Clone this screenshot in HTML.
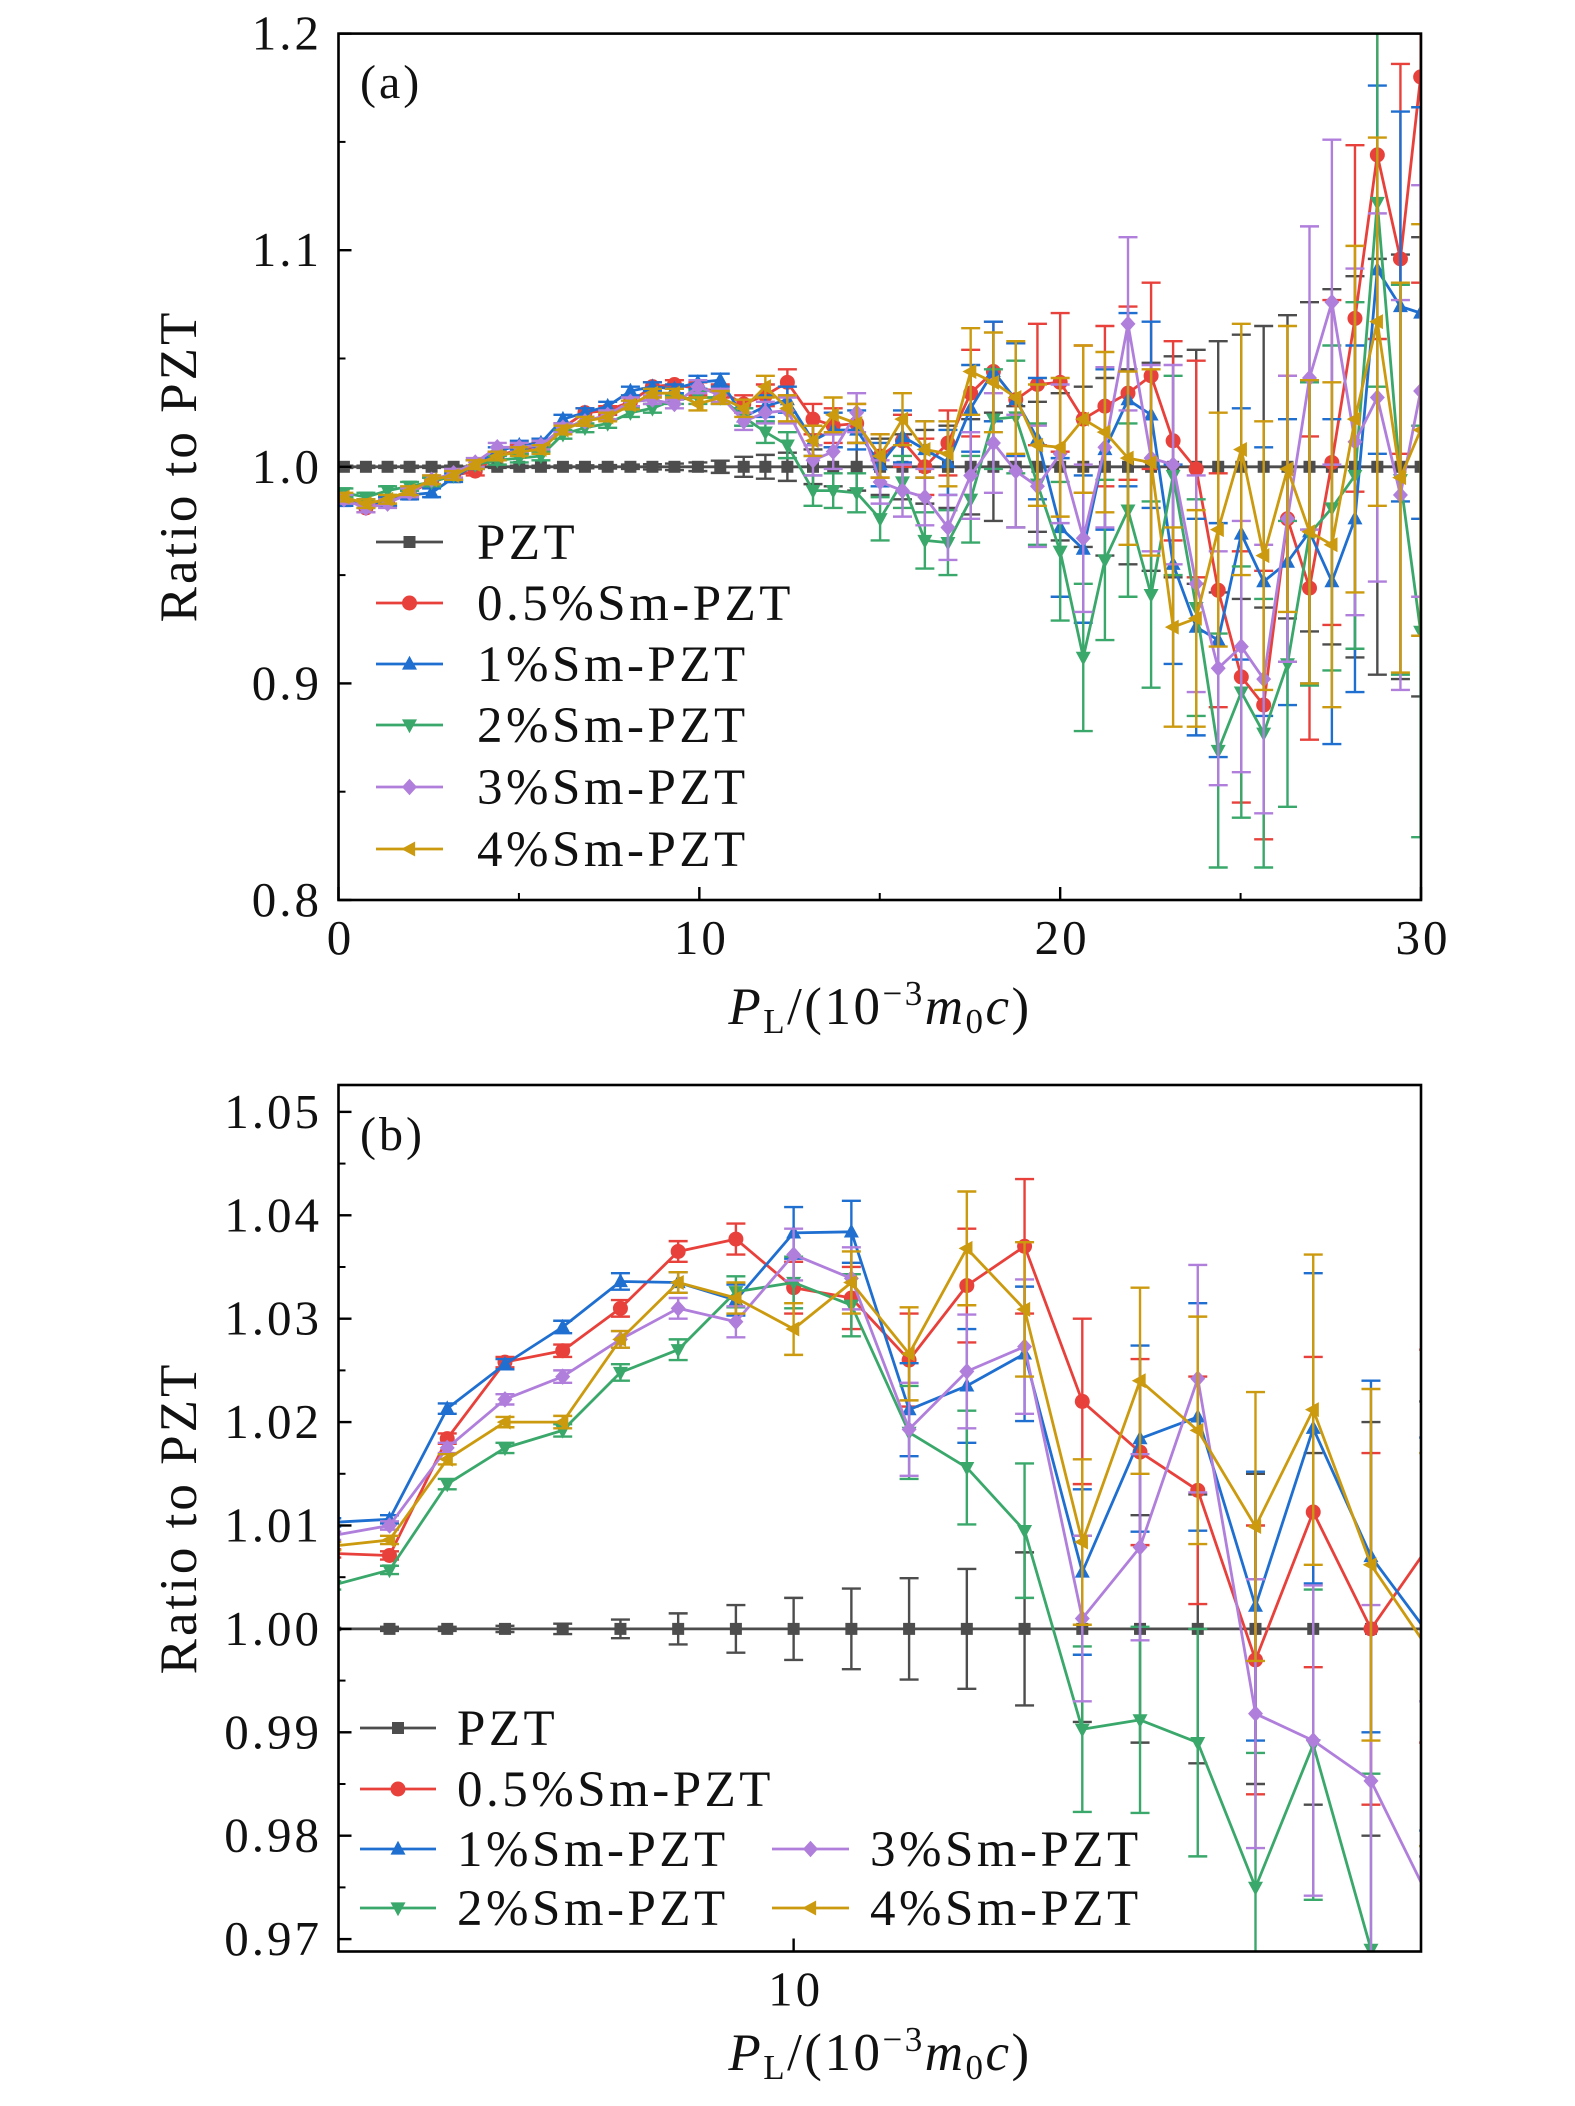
<!DOCTYPE html>
<html><head><meta charset="utf-8"><style>
html,body{margin:0;padding:0;background:#fff;overflow:hidden;width:1575px;height:2106px}
svg{display:block}
text{font-family:"Liberation Serif",serif;fill:#111}
</style></head><body>
<svg id="chart" width="1575" height="2106" viewBox="0 0 1575 2106" xmlns="http://www.w3.org/2000/svg">
<defs>
<clipPath id="clipA"><rect x="338.5" y="33.6" width="1082.5" height="866.4"/></clipPath>
<clipPath id="clipB"><rect x="338.5" y="1085" width="1082.5" height="866.5"/></clipPath>
</defs>
<g id="panelA"></g>
<g id="panelB"></g>
</svg>
<script>
// ---------- Panel (a) data ----------
const xA = [0.15,0.76,1.36,1.97,2.58,3.19,3.79,4.4,5.01,5.61,6.22,6.83,7.46,8.09,8.7,9.31,9.96,10.58,11.23,11.83,12.44,13.15,13.71,14.36,15.01,15.63,16.25,16.89,17.52,18.15,18.77,19.37,20.0,20.64,21.24,21.88,22.52,23.13,23.77,24.38,25.02,25.64,26.3,26.91,27.53,28.17,28.79,29.43,29.99,30.6];
const pztA = [1,1,1,1,1,1,1,1,1,1,1,1,1,1,1,1,1,1,1,1,1,1,1,1,1,1,1,1,1,1,1,1,1,1,1,1,1,1,1,1,1,1,1,1,1,1,1,1,1,1];
const redA = [0.985,0.981,0.984,0.988,0.993,0.996,0.998,1.005,1.008,1.009,1.018,1.025,1.026,1.030,1.037,1.038,1.036,1.035,1.029,1.033,1.039,1.022,1.019,1.020,1.005,1.012,1.000,1.011,1.034,1.044,1.031,1.038,1.039,1.022,1.028,1.034,1.042,1.012,0.999,0.943,0.903,0.89,0.976,0.944,1.002,1.0685,1.144,1.096,1.18,1.24];
const blueA = [0.984,0.983,0.984,0.987,0.988,0.995,1.001,1.007,1.01,1.011,1.022,1.025,1.028,1.035,1.037,1.036,1.039,1.040,1.023,1.028,1.031,1.012,1.017,1.017,1.001,1.014,1.008,1.002,1.027,1.044,1.031,1.013,0.972,0.962,1.008,1.031,1.024,0.955,0.926,0.920,0.969,0.947,0.956,0.97,0.947,0.976,1.091,1.074,1.071,1.07];
const greenA = [0.988,0.986,0.989,0.991,0.993,0.996,1.001,1.003,1.004,1.005,1.015,1.018,1.02,1.025,1.027,1.031,1.032,1.032,1.023,1.016,1.010,0.989,0.989,0.988,0.976,0.993,0.966,0.965,0.985,1.022,1.023,0.992,0.961,0.912,0.957,0.980,0.941,0.996,0.935,0.869,0.896,0.877,0.909,0.969,0.981,0.996,1.122,0.994,0.924,0.86];
const purpleA = [0.985,0.981,0.983,0.988,0.994,0.997,1.002,1.009,1.009,1.01,1.018,1.021,1.024,1.030,1.031,1.029,1.037,1.033,1.021,1.025,1.026,1.003,1.007,1.025,0.993,0.989,0.986,0.972,0.996,1.011,0.998,0.991,1.006,0.967,1.009,1.066,1.004,1.001,0.946,0.907,0.917,0.902,0.976,1.041,1.076,1.0115,1.032,0.987,1.035,1.05];
const goldA = [0.986,0.983,0.985,0.989,0.994,0.996,1.001,1.005,1.007,1.008,1.017,1.021,1.023,1.0285,1.034,1.034,1.029,1.032,1.027,1.037,1.027,1.012,1.024,1.020,1.005,1.022,1.008,1.006,1.044,1.039,1.032,1.010,1.009,1.022,1.016,1.004,1.002,0.926,0.930,0.971,1.008,0.959,0.999,0.97,0.964,1.022,1.067,0.995,1.017,1.03];
const errPztA = [0.0005,0.0005,0.0005,0.0005,0.0005,0.0005,0.0005,0.0005,0.0005,0.0005,0.0006,0.0007,0.0008,0.001,0.0012,0.0015,0.002,0.0028,0.0046,0.0055,0.0065,0.008,0.009,0.011,0.013,0.015,0.017,0.019,0.022,0.025,0.028,0.03,0.034,0.037,0.041,0.045,0.048,0.051,0.054,0.058,0.061,0.065,0.07,0.076,0.082,0.088,0.096,0.098,0.106,0.11];
const errColA = [0.002,0.002,0.002,0.002,0.002,0.002,0.002,0.002,0.002,0.002,0.002,0.002,0.002,0.002,0.002,0.002,0.003,0.003,0.004,0.005,0.006,0.007,0.008,0.009,0.010,0.012,0.013,0.015,0.02,0.023,0.026,0.028,0.032,0.034,0.037,0.04,0.043,0.046,0.05,0.054,0.058,0.062,0.066,0.07,0.075,0.08,0.085,0.09,0.095,0.1];
const yTicksA = [0.8,0.9,1.0,1.1,1.2];
const yTickLabelsA = ["0.8","0.9","1.0","1.1","1.2"];
const xTicksA = [0,10,20,30];
const xTickLabelsA = ["0","10","20","30"];

// ---------- Panel (b) data ----------
const xB = [5.2,5.8,6.4,7.0,7.6,8.2,8.8,9.4,10.0,10.6,11.2,11.8,12.4,13.0,13.6,14.2,14.8,15.4,16.0,16.6];
const pztB = [1,1,1,1,1,1,1,1,1,1,1,1,1,1,1,1,1,1,1,1];
const redB = [1.0073,1.0071,1.0184,1.0258,1.0269,1.031,1.0365,1.0377,1.033,1.032,1.026,1.0332,1.037,1.022,1.0171,1.0134,0.997,1.0113,1.000,1.008];
const blueB = [1.0103,1.0106,1.0213,1.0256,1.0292,1.0336,1.0335,1.0318,1.0383,1.0384,1.0212,1.0235,1.0266,1.0055,1.0184,1.0205,1.0022,1.0194,1.007,0.9995];
const greenB = [1.0042,1.0057,1.014,1.0175,1.0192,1.0248,1.027,1.0326,1.0335,1.0313,1.019,1.0156,1.0095,0.9903,0.9912,0.989,0.975,0.9888,0.969,0.96];
const purpleB = [1.009,1.010,1.0175,1.0222,1.0244,1.028,1.031,1.0297,1.0362,1.0339,1.0193,1.0249,1.0273,1.001,1.0079,1.0242,0.9918,0.9892,0.9853,0.974];
const goldB = [1.008,1.0086,1.0164,1.02,1.02,1.028,1.0335,1.032,1.029,1.0335,1.0266,1.0368,1.0309,1.0084,1.024,1.0192,1.0099,1.0212,1.0062,0.998];
const errPztB = [0.0001,0.0002,0.0002,0.0003,0.0005,0.0009,0.0015,0.0023,0.003,0.0039,0.0049,0.0058,0.0074,0.009,0.011,0.013,0.015,0.017,0.02,0.022];
const errColB = [0.0004,0.0004,0.0005,0.0005,0.0006,0.0008,0.001,0.0015,0.0025,0.003,0.0045,0.0055,0.0065,0.008,0.009,0.011,0.013,0.015,0.017,0.019];
const yTicksB = [0.97,0.98,0.99,1.00,1.01,1.02,1.03,1.04,1.05];
const yTickLabelsB = ["0.97","0.98","0.99","1.00","1.01","1.02","1.03","1.04","1.05"];
const xTicksB = [10];
const xTickLabelsB = ["10"];

const seriesNames = ["PZT","0.5%Sm-PZT","1%Sm-PZT","2%Sm-PZT","3%Sm-PZT","4%Sm-PZT"];
const seriesColors = ["#4d4d4d","#e8413b","#1f6fd1","#3aa86b","#b07fdc","#cc9a0e"];
const seriesMarkers = ["square","circle","up","down","diamond","left"];
const seriesKeys = ["pzt","red-05","blue-1","green-2","purple-3","gold-4"];

const NS = "http://www.w3.org/2000/svg";
function mk(tag, attrs, parent){
  const e = document.createElementNS(NS, tag);
  for (const k in attrs) e.setAttribute(k, attrs[k]);
  parent.appendChild(e);
  return e;
}
function markerPath(type, cx, cy, r){
  if (type==="square") return `M${cx-r*0.8},${cy-r*0.8}h${1.6*r}v${1.6*r}h${-1.6*r}Z`;
  if (type==="circle") return `M${cx-r},${cy}a${r},${r} 0 1,0 ${2*r},0a${r},${r} 0 1,0 ${-2*r},0Z`;
  if (type==="up") return `M${cx},${cy-r*1.1}L${cx+r},${cy+r*0.75}L${cx-r},${cy+r*0.75}Z`;
  if (type==="down") return `M${cx},${cy+r*1.1}L${cx+r},${cy-r*0.75}L${cx-r},${cy-r*0.75}Z`;
  if (type==="diamond") return `M${cx},${cy-r*1.1}L${cx+r},${cy}L${cx},${cy+r*1.1}L${cx-r},${cy}Z`;
  if (type==="left") return `M${cx-r*1.1},${cy}L${cx+r*0.75},${cy-r}L${cx+r*0.75},${cy+r}Z`;
}

function drawPanel(cfg){
  const g = cfg.g;
  const L=338.5, R=1421, T=cfg.top, B=cfg.bottom;
  const sx = v => L + (v - cfg.xmin)/(cfg.xmax - cfg.xmin)*(R-L);
  const sy = v => B - (v - cfg.ymin)/(cfg.ymax - cfg.ymin)*(B-T);
  const dg = mk("g", {"clip-path":`url(#${cfg.clip})`}, g);
  
  
  cfg.series.forEach((vals, si) => {
    const col = seriesColors[si];
    const sg = mk("g", {}, dg);
    
    
    const err = si===0 ? cfg.errPzt : cfg.errCol;
    vals.forEach((v, i) => {
      const x = sx(cfg.x[i]), y1 = sy(v + err[i]), y2 = sy(v - err[i]);
      const eb = mk("path", {d:`M${x},${y1}V${y2}M${x-9.5},${y1}h19M${x-9.5},${y2}h19`, stroke:col, "stroke-width":2.4, fill:"none"}, sg);
      
      
    });
    const pts = vals.map((v,i)=>`${sx(cfg.x[i]).toFixed(1)},${sy(v).toFixed(1)}`).join(" ");
    const ln = mk("polyline", {points:pts, fill:"none", stroke:col, "stroke-width":2.8, "stroke-linejoin":"round"}, sg);
    
    
    vals.forEach((v, i) => {
      const m = mk("path", {d:markerPath(seriesMarkers[si], sx(cfg.x[i]), sy(v), 7.5), fill:col}, sg);
      
      
    });
  });
  const fr = mk("rect", {x:L, y:T, width:R-L, height:B-T, fill:"none", stroke:"#000", "stroke-width":2.6}, g);
  
  
  cfg.yTicks.forEach((v, i) => {
    const y = sy(v);
    const t = mk("line", {x1:L, x2:L+13, y1:y, y2:y, stroke:"#000", "stroke-width":2.4}, g);
    
    
    const lb = mk("text", {x:322, y:y+16, "text-anchor":"end", "font-size":49, "letter-spacing":3}, g);
    lb.textContent = cfg.yLabels[i];
    
    
  });
  cfg.yMinor.forEach(v => {
    const y = sy(v);
    const t = mk("line", {x1:L, x2:L+7, y1:y, y2:y, stroke:"#000", "stroke-width":2}, g);
    
    
  });
  cfg.xTicks.forEach((v, i) => {
    const x = sx(v);
    const t = mk("line", {x1:x, x2:x, y1:B, y2:B-13, stroke:"#000", "stroke-width":2.4}, g);
    
    
    const lb = mk("text", {x:x+2, y:B+54, "text-anchor":"middle", "font-size":49, "letter-spacing":3}, g);
    lb.textContent = cfg.xLabels[i];
    
    
  });
  cfg.xMinor.forEach(v => {
    const x = sx(v);
    const t = mk("line", {x1:x, x2:x, y1:B, y2:B-7, stroke:"#000", "stroke-width":2}, g);
    
    
  });
  const pl = mk("text", {x:360, y:cfg.labelY, "font-size":48, "letter-spacing":3}, g);
  pl.textContent = cfg.label;
  
  
  const yt = mk("text", {x:0, y:0, "text-anchor":"middle", "font-size":53, "letter-spacing":3, transform:`translate(196,${cfg.yTitleY}) rotate(-90)`}, g);
  yt.textContent = "Ratio to PZT";
  
  
  const xt = mk("text", {x:880, y:cfg.xTitleY, "text-anchor":"middle", "font-size":53, "letter-spacing":2.5}, g);
  
  
  xt.innerHTML = '<tspan font-style="italic">P</tspan><tspan font-size="35" dy="9">L</tspan><tspan dy="-9">/(10</tspan><tspan font-size="35" dy="-19">−3</tspan><tspan font-style="italic" dy="19">m</tspan><tspan font-size="35" dy="9">0</tspan><tspan font-style="italic" dy="-9">c</tspan><tspan>)</tspan>';
  cfg.legend.forEach((le, si) => {
    const lg = mk("g", {}, g);
    
    
    const col = seriesColors[si];
    mk("line", {x1:le[0], x2:le[1], y1:le[3], y2:le[3], stroke:col, "stroke-width":2.8}, lg);
    mk("path", {d:markerPath(seriesMarkers[si], (le[0]+le[1])/2, le[3], 7.5), fill:col}, lg);
    const tx = mk("text", {x:le[2], y:le[3]+17, "font-size":51, "letter-spacing":3.5}, lg);
    tx.textContent = seriesNames[si];
  });
}

drawPanel({
  g: document.getElementById("panelA"), clip:"clipA",
  top:33.6, bottom:900, xmin:0, xmax:30, ymin:0.8, ymax:1.2,
  x:xA, series:[pztA,redA,blueA,greenA,purpleA,goldA], errPzt:errPztA, errCol:errColA,
  yTicks:yTicksA, yLabels:yTickLabelsA, yMinor:[0.85,0.95,1.05,1.15],
  xTicks:xTicksA, xLabels:xTickLabelsA, xMinor:[5,15,25],
  label:"(a)", labelY:98, yTitleY:466, xTitleY:1024,
  legend:[[376,443,477,542],[376,443,477,603],[376,443,477,664],[376,443,477,725],[376,443,477,787],[376,443,477,849]]
});
drawPanel({
  g: document.getElementById("panelB"), clip:"clipB",
  top:1085, bottom:1951.5, xmin:5.27, xmax:16.52, ymin:0.9688, ymax:1.0526,
  x:xB, series:[pztB,redB,blueB,greenB,purpleB,goldB], errPzt:errPztB, errCol:errColB,
  yTicks:yTicksB, yLabels:yTickLabelsB, yMinor:[0.975,0.985,0.995,1.005,1.015,1.025,1.035,1.045],
  xTicks:xTicksB, xLabels:xTickLabelsB, xMinor:[],
  label:"(b)", labelY:1150, yTitleY:1518, xTitleY:2070,
  legend:[[360,436,457,1728],[360,436,457,1789],[360,436,457,1849],[360,436,457,1908],[772,849,870,1849],[772,849,870,1908]]
});
</script>
</body></html>
